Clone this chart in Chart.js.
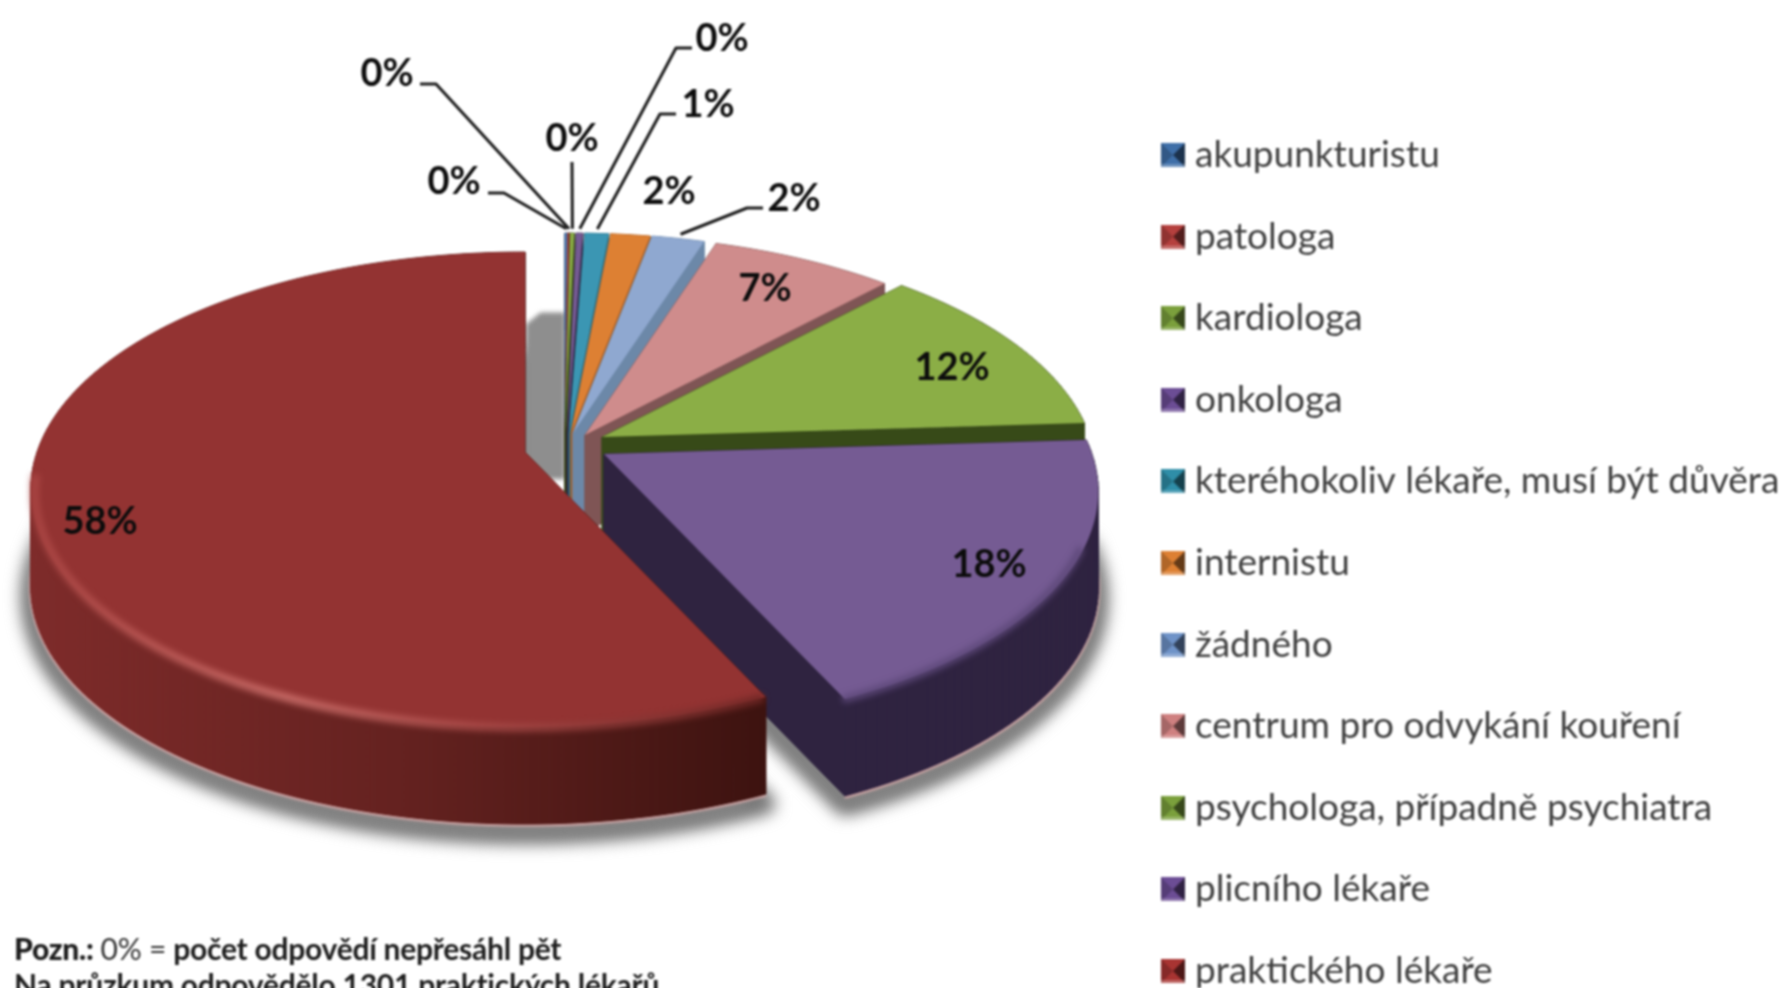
<!DOCTYPE html>
<html lang="cs">
<head>
<meta charset="utf-8">
<style>
html,body{margin:0;padding:0;width:1781px;height:988px;overflow:hidden;background:#fff}
#wrap{position:relative;width:1781px;height:988px;filter:blur(0.8px)}
canvas{position:absolute;left:0;top:0}
.note{position:absolute;left:14px;font-family:Lato,sans-serif;font-size:30px;line-height:32px;color:#1c1c1c;white-space:nowrap;letter-spacing:-0.25px;font-weight:700}
.note span{font-weight:400;color:#333}
</style>
</head>
<body>
<div id="wrap">
<canvas id="c" width="1781" height="988"></canvas>
<div class="note" style="top:932px"><b style="font-weight:900">Pozn.:</b> <span>0% =</span> počet odpovědí nepřesáhl pět</div>
<div class="note" style="top:968px">Na průzkum odpovědělo 1301 praktických lékařů</div>
</div>
<script src="https://cdn.jsdelivr.net/npm/chart.js@4"></script>
<script>
const categories = ["akupunkturistu","patologa","kardiologa","onkologa","kteréhokoliv lékaře, musí být důvěra","internistu","žádného","centrum pro odvykání kouření","psychologa, případně psychiatra","plicního lékaře","praktického lékaře"];
const values = [0.1,0.1,0.15,0.25,1,2,2,7,12,18,58];
const topColors = ["#4f81bd","#a8413f","#8bae46","#755b93","#3b96b3","#dd8033","#8fa8d0","#cf8c8c","#8bae46","#755b93","#933332"];
const wallColors = ["#2f4d71","#652625","#374a18","#2f2340","#2c7085","#a85f26","#6c88a8","#7f5555","#374a18","#2f2340","#7e2b2a"];
const explodeX = [0,0,0,2,4,6,8,20,37,39,-40];
const explodeY = [0,0,0,0,0,0,0,2,4,21,19];
const labelX = [454,387,572,722,708,669,794,765,952,989,100];
const labelY = [182,74,139,39,105,192,199,289,368,565,522];
const leaderStartX = [488,420,572,692,676,null,763,null,null,null,null];
const leaderStartY = [193,84,162,48,114,null,208,null,null,null,null];
const leaderElbowX = [504,436,572,676,660,null,747,null,null,null,null];

const geo = {cx:565, cy:433, rx:488, ry:231.6, p:0.158, depth:97};
// perspective correction of the pie angle, in degrees clockwise from the top
const warpFrom = [0,2.15,5.72,12.88,20.04,45.1,88.05,152.45,360];
const warpTo   = [0,2.15,5.4,10.8,18,43.2,86.5,155,360];

function warp(theta){
  const d=theta*180/Math.PI;
  for(let k=1;k<warpFrom.length;k++){
    if(d<=warpFrom[k]){
      const t=(d-warpFrom[k-1])/(warpFrom[k]-warpFrom[k-1]);
      return (warpTo[k-1]+(warpTo[k]-warpTo[k-1])*t)*Math.PI/180;
    }
  }
  return theta;
}
function project(theta, r, i){
  const a=warp(theta), s=Math.sin(a)*r, c=Math.cos(a)*r, w=1+geo.p*c;
  return [geo.cx+explodeX[i]+geo.rx*s/w, geo.cy+explodeY[i]-geo.ry*c/w];
}
function outline(arc,i,r){
  const a0=arc.startAngle+Math.PI/2, a1=arc.endAngle+Math.PI/2;
  const n=Math.max(2,Math.ceil((a1-a0)/(Math.PI/150)));
  const pts=[];
  for(let k=0;k<=n;k++) pts.push(project(a0+(a1-a0)*k/n,r||1,i));
  return pts;
}
function trace(ctx,pts,close,dy){
  ctx.beginPath();
  pts.forEach((p,k)=>k?ctx.lineTo(p[0],p[1]+(dy||0)):ctx.moveTo(p[0],p[1]+(dy||0)));
  if(close)ctx.closePath();
}

const pie3d = {
  id:'pie3d',
  beforeDatasetDraw(chart){
    const ctx=chart.ctx, arcs=chart.getDatasetMeta(0).data;
    const last=arcs.length-1, front=[last-1,last];
    ctx.save();
    // soft shadow below the front slices
    ctx.filter='blur(8px)';
    ctx.fillStyle='#787878'; ctx.strokeStyle='#787878'; ctx.lineWidth=20; ctx.lineJoin='round';
    front.forEach(i=>{
      const o=outline(arcs[i],i), apex=[geo.cx+explodeX[i],geo.cy+explodeY[i]];
      trace(ctx,[apex,...o],true,geo.depth+10); ctx.fill(); ctx.stroke();
    });
    // shadow in the gap between the large slice and the thin slices
    ctx.filter='blur(2px)';
    ctx.fillStyle='#8e8e8e';
    const gap=[[-0.08,0.47],[-0.05,0.52],[0,0.52],[0,-0.2],[-0.08,-0.2]].map(q=>[geo.cx+geo.rx*q[0],geo.cy-geo.ry*q[1]]);
    trace(ctx,gap,true); ctx.fill();
    // pink glow
    ctx.filter='blur(1.2px)';
    ctx.strokeStyle='#d9a9a9'; ctx.lineWidth=3;
    front.forEach(i=>{ trace(ctx,outline(arcs[i],i),false,geo.depth+1); ctx.stroke(); });
    ctx.filter='none';
    arcs.forEach((arc,i)=>{
      const o=outline(arc,i), apex=[geo.cx+explodeX[i],geo.cy+explodeY[i]];
      const ring=[apex,...o,apex];
      let wall=wallColors[i];
      if(i===last){
        const g=ctx.createLinearGradient(30,0,765,0);
        g.addColorStop(0,'#7e2b2a'); g.addColorStop(0.5,'#652220'); g.addColorStop(1,'#3d1310');
        wall=g;
      }
      ctx.fillStyle=wall; ctx.strokeStyle=wall; ctx.lineWidth=1;
      for(let k=0;k<ring.length-1;k++){
        const a=ring[k], b=ring[k+1];
        ctx.beginPath();
        ctx.moveTo(a[0],a[1]);ctx.lineTo(b[0],b[1]);
        ctx.lineTo(b[0],b[1]+geo.depth);ctx.lineTo(a[0],a[1]+geo.depth);ctx.closePath();
        ctx.fill();ctx.stroke();
      }
      ctx.fillStyle=arc.options.backgroundColor;
      trace(ctx,ring,true); ctx.fill();
      if(i===last-1){
        ctx.save();ctx.filter='blur(3px)';ctx.strokeStyle='#5d4879';ctx.lineWidth=7;
        trace(ctx,outline(arc,i,0.992).filter(p=>p[1]>540),false,3);ctx.stroke();ctx.restore();
      }
      if(i===last){
        ctx.save();ctx.filter='blur(3px)';
        const g=ctx.createLinearGradient(30,0,765,0);
        g.addColorStop(0,'#a84442');g.addColorStop(0.35,'#c86c68');g.addColorStop(0.6,'#a84a48');g.addColorStop(1,'#6e2624');
        ctx.strokeStyle=g;ctx.lineWidth=8;
        trace(ctx,outline(arc,i,0.992).filter(p=>p[1]>470),false,3);ctx.stroke();
        ctx.restore();
      }
    });
    ctx.restore();
    return false;
  },
  afterDatasetsDraw(chart){
    const ctx=chart.ctx, arcs=chart.getDatasetMeta(0).data;
    ctx.save();
    ctx.strokeStyle='#1c1c1c'; ctx.lineWidth=3;ctx.lineJoin='round';
    arcs.forEach((arc,i)=>{
      if(leaderStartX[i]===null) return;
      const a=(arc.startAngle+arc.endAngle)/2+Math.PI/2;
      const end=project(a,1.025,i);
      ctx.beginPath();
      ctx.moveTo(leaderStartX[i],leaderStartY[i]);
      ctx.lineTo(leaderElbowX[i],leaderStartY[i]);
      ctx.lineTo(end[0],end[1]);
      ctx.stroke();
    });
    ctx.font='700 38px Lato, sans-serif';
    ctx.fillStyle='#0c0c0c'; ctx.textAlign='center'; ctx.textBaseline='middle';
    values.forEach((v,i)=>ctx.fillText(Math.round(v)+'%',labelX[i],labelY[i]));
    ctx.restore();
  },
  beforeDraw(chart){
    const lg=chart.legend, pad=chart.options.plugins.legend.labels.padding;
    lg.left=1169.5-pad; lg.right=1781; lg.top=136.5-pad; lg.bottom=1100;
  }
};

function swatch(col){
  const s=24, cv=document.createElement('canvas'); cv.width=s; cv.height=s;
  const x=cv.getContext('2d');
  const tri=(a,b,c,f)=>{x.fillStyle=f;x.beginPath();x.moveTo(...a);x.lineTo(...b);x.lineTo(...c);x.closePath();x.fill();};
  const m=[s/2,s/2];
  x.fillStyle=col;x.fillRect(0,0,s,s);
  tri([0,0],[s,0],m,col);
  tri([0,s],[s,s],m,col);
  tri([0,0],[0,s],m,'rgba(0,0,0,0.2)');
  tri([s,0],[s,s],m,'rgba(0,0,0,0.55)');
  x.fillStyle='rgba(255,255,255,0.25)';x.fillRect(0,s-3,s,3);
  return cv;
}
const legendColors=["#3f6fa8","#b5403e","#7ba03c","#6c4d95","#2f8ea8","#dd8033","#6f93c8","#cf8080","#7ba03c","#6c4d95","#a83432"];
const swatches=legendColors.map(swatch);

new Chart(document.getElementById('c'),{
  type:'pie',
  data:{labels:categories,datasets:[{data:values,backgroundColor:topColors,borderWidth:0}]},
  options:{
    responsive:false,animation:false,
    plugins:{
      tooltip:{enabled:false},
      legend:{position:'right',align:'start',labels:{
        usePointStyle:true,pointStyleWidth:7,boxHeight:24,padding:44.6,color:'#3f3f3f',
        font:{family:'Lato, sans-serif',size:37},
        generateLabels(chart){
          const items=Chart.overrides.pie.plugins.legend.labels.generateLabels(chart);
          items.forEach((it,i)=>{it.pointStyle=swatches[i];});
          return items;
        }
      }}
    }
  },
  plugins:[pie3d]
});
</script>
</body>
</html>
